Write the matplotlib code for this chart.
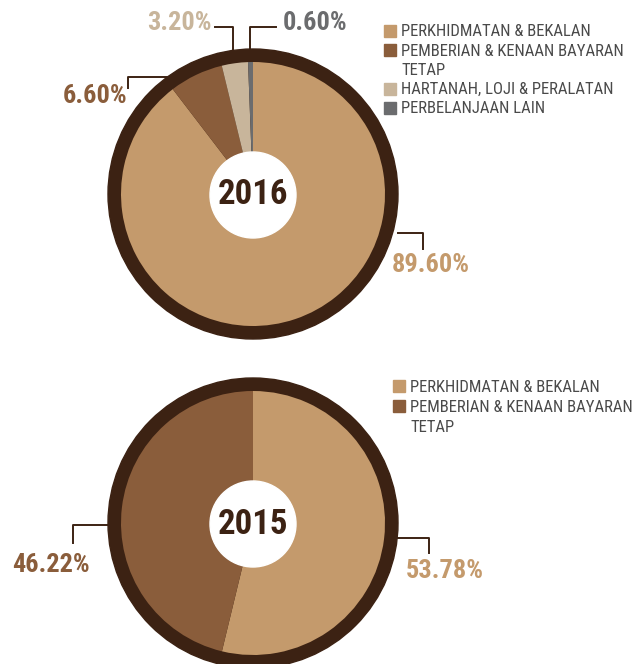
import matplotlib.pyplot as plt
from matplotlib.patches import Circle, Rectangle

plt.rcParams['font.family'] = ['Roboto Condensed', 'DejaVu Sans']

# data
cats_2016 = ["PERKHIDMATAN & BEKALAN", "PEMBERIAN & KENAAN BAYARAN\nTETAP",
             "HARTANAH, LOJI & PERALATAN", "PERBELANJAAN LAIN"]
vals_2016 = [89.60, 6.60, 3.20, 0.60]
cats_2015 = ["PERKHIDMATAN & BEKALAN", "PEMBERIAN & KENAAN BAYARAN\nTETAP"]
vals_2015 = [53.78, 46.22]
colors = ["#C49A6C", "#8A5D3B", "#C8B59B", "#6B6C6E"]
ring = "#3C2213"

W, H = 638, 664
fig = plt.figure(figsize=(W / 100, H / 100), dpi=100)
ax = fig.add_axes([0, 0, 1, 1])


def donut(cx, cy, vals, year):
    y = H - cy
    ax.add_patch(Circle((cx, y), 145, color=ring, zorder=1))
    ax.pie(vals, colors=colors[:len(vals)], startangle=90, counterclock=False,
           center=(cx, y), radius=132, wedgeprops=dict(linewidth=0, zorder=2))
    ax.add_patch(Circle((cx, y - 1), 43, color="white", zorder=3))
    ax.text(cx, y - 1, year, ha="center", va="center", fontsize=25,
            fontweight="bold", color=ring, zorder=4)


def leader(pts, label, tx, ty, color, ha="left"):
    xs = [p[0] for p in pts]
    ys = [H - p[1] for p in pts]
    ax.plot(xs, ys, color=ring, lw=1.4, zorder=0)
    ax.text(tx, H - ty, label, ha=ha, va="center", fontsize=19,
            fontweight="bold", color=color)


def legend(x, y, cats, step):
    row = y
    for c, lab in zip(colors, cats):
        ax.add_patch(Rectangle((x, H - row - 6), 12, 12, color=c))
        # one text per line so the square sits on the first line
        for line in lab.split("\n"):
            ax.text(x + 17, H - row - 5.5, line, ha="left", va="baseline",
                    fontsize=12, color="#4a4a4a")
            row += step


# 2016
donut(253, 194, vals_2016, "2016")
leader([(398, 233), (423, 233), (423, 249)], "%.2f%%" % vals_2016[0], 392, 265, colors[0])
leader([(175, 77), (128, 77), (128, 88)], "%.2f%%" % vals_2016[1], 127, 96, colors[1], ha="right")
leader([(215, 27), (233, 27), (233, 55)], "%.2f%%" % vals_2016[2], 212, 23, colors[2], ha="right")
leader([(250, 55), (250, 27), (276, 27)], "%.2f%%" % vals_2016[3], 283, 23, colors[3])
legend(384, 31, cats_2016, 19.2)

# 2015
donut(253, 523, vals_2015, "2015")
leader([(398, 538), (429, 538), (429, 553)], "%.2f%%" % vals_2015[0], 406, 571, colors[0])
leader([(108, 525), (73, 525), (73, 543)], "%.2f%%" % vals_2015[1], 12, 565, colors[1])
legend(393, 386, cats_2015, 20)

ax.set_xlim(0, W)
ax.set_ylim(0, H)
ax.set_aspect("auto")
ax.axis("off")
fig.savefig("out.png", dpi=100)
